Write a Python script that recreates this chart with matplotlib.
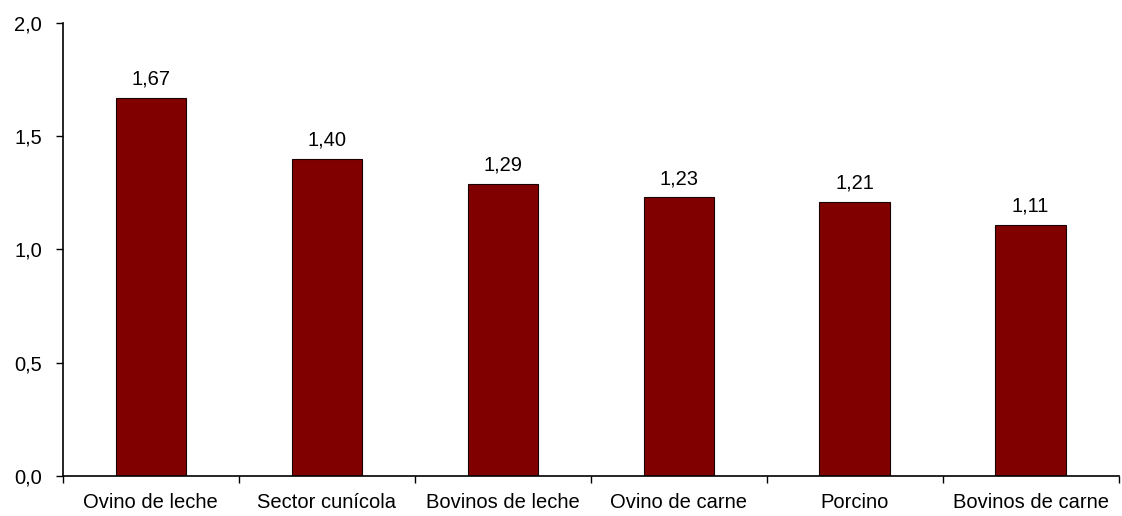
import matplotlib
matplotlib.use('Agg')
from matplotlib import pyplot as plt
import numpy as np

plt.rcParams['font.family'] = ['Liberation Sans', 'DejaVu Sans']

categorias = ['Ovino de leche', 'Sector cunícola', 'Bovinos de leche',
              'Ovino de carne', 'Porcino', 'Bovinos de carne']
valores = [1.67, 1.40, 1.29, 1.23, 1.21, 1.11]
yticks = [0.0, 0.5, 1.0, 1.5, 2.0]

fig = plt.figure(figsize=(11.22, 5.16), dpi=100)
ax = fig.add_axes([0.056, 0.0775, 0.941, 0.878])

x = np.arange(len(categorias))
ax.bar(x, valores, width=0.4, color='#800000', edgecolor='#1a0000', linewidth=0.8)

# etiquetas de valor encima de cada barra
for xi, v in zip(x, valores):
    ax.text(xi, v + 0.04, ('%.2f' % v).replace('.', ','), ha='center', va='bottom', fontsize=14.5)

ax.set_xlim(-0.5, len(categorias) - 0.5)
ax.set_ylim(0, 2.0)
ax.set_yticks(yticks)
ax.set_yticklabels([('%.1f' % t).replace('.', ',') for t in yticks], fontsize=14.5)

# ticks between categories
ax.set_xticks(np.arange(len(categorias) + 1) - 0.5)
ax.set_xticklabels([])
ax.set_xticks(x, minor=True)
ax.set_xticklabels(categorias, minor=True, fontsize=14.5)
ax.tick_params(axis='x', which='minor', length=0, pad=12)
ax.tick_params(axis='x', which='major', length=5, width=1, direction='out')
ax.tick_params(axis='y', length=5, width=1, direction='out', pad=10)

ax.spines['top'].set_visible(False)
ax.spines['right'].set_visible(False)
ax.spines['left'].set_linewidth(1.2)
ax.spines['bottom'].set_linewidth(1.2)

plt.savefig('out.png', dpi=100)
